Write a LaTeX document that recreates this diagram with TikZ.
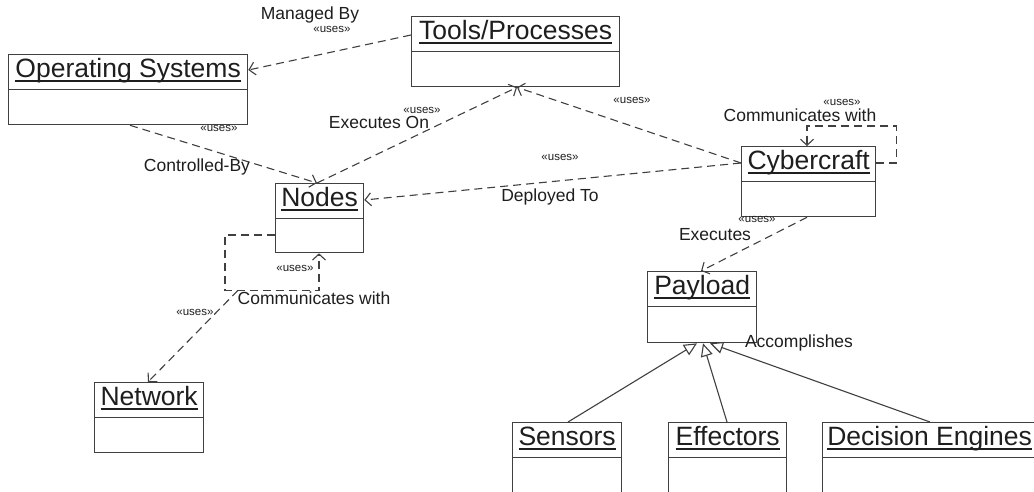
\documentclass[tikz,border=0pt]{standalone}
\usepackage{fontspec}
\setmainfont{Liberation Sans}
\usetikzlibrary{arrows.meta}
\definecolor{ln}{HTML}{404040}
\definecolor{tx}{HTML}{1E1E1E}
\newcommand\ulname[1]{\setbox0\hbox{#1}\rlap{\rule[-4.5pt]{\wd0}{1.8pt}}\box0}
\tikzset{
  box/.style={draw=ln, line width=1.3pt, rectangle, inner sep=0pt, fill=white},
  boxline/.style={draw=ln, line width=1.3pt},
  title/.style={text=tx, font=\fontsize{26.5}{30}\selectfont, inner sep=0pt},
  lab/.style={text=tx, font=\fontsize{17.5}{20}\selectfont, inner sep=0pt},
  st/.style={text=tx, font=\fontsize{11.5}{13}\selectfont, inner sep=0pt},
  dep/.style={draw=ln, line width=1.1pt, dash pattern=on 8pt off 5pt, -{Straight Barb[length=6pt,width=13pt]}},
  gen/.style={draw=ln, line width=1.1pt, -{Triangle[open, length=13pt, width=12pt, fill=white]}},
}
\newcommand\umlbox[6]{%
  \node[box, minimum width=#4pt, minimum height=#5pt, anchor=north west] (#1) at (#2,#3) {};
  \draw[boxline] ([yshift=-35.5pt]#1.north west) -- ([yshift=-35.5pt]#1.north east);
  \node[title, anchor=base] (#1-t) at ([yshift=-23pt]#1.north) {\ulname{#6}};
}
\begin{document}
\begin{tikzpicture}[x=1pt, y=-1pt]
\useasboundingbox (0,0) rectangle (1034,491);
\clip (0,0) rectangle (1034,491);
\fill[white] (0,0) rectangle (1034,491);

% connectors first (boxes drawn over them)
% Tools -> OS
\umlbox{os}{8}{54}{239}{70}{Operating Systems}
\umlbox{tools}{411}{16}{208}{70}{Tools/Processes}
\umlbox{cyber}{741}{146}{134}{70}{Cybercraft}
\umlbox{nodes}{275}{183}{88}{69}{Nodes}
\umlbox{network}{94}{382}{109}{70}{Network}
\umlbox{payload}{647}{271}{109}{71}{Payload}
\umlbox{sensors}{512}{422}{109}{74}{Sensors}
\umlbox{effectors}{668}{422}{118}{74}{Effectors}
\umlbox{decision}{822}{422}{214}{74}{Decision Engines}

\draw[dep] ([yshift=-19pt]tools.north west) -- ([yshift=-16pt]os.north east);
\draw[dep] ([xshift=122pt]os.south west) -- ([xshift=42pt]nodes.north west);
\draw[dep] ([xshift=42pt]nodes.north west) -- ([xshift=106pt]tools.south west);
\draw[dep] ([yshift=-17pt]cyber.north west) -- ([xshift=106pt]tools.south west);
\draw[dep] ([yshift=-17pt]cyber.north west) -- ([yshift=-17pt]nodes.north east);
\draw[dep] ([yshift=-17pt]cyber.north east) -- ++(20,0) |- ([xshift=66pt,yshift=20pt]cyber.north west) -- ([xshift=66pt]cyber.north west);
\draw[dep] ([xshift=66pt]cyber.south west) -- ([xshift=54pt]payload.north west);
\draw[dep] ([yshift=-52pt]nodes.north west) -- ++(-50,0) |- ([xshift=44pt,yshift=-37pt]nodes.south west) -- ([xshift=44pt]nodes.south west);
\draw[dep] ([xshift=-37pt,yshift=-37pt]nodes.south west) -- ([xshift=54pt]network.north west);

\draw[gen] ([xshift=56pt]sensors.north west) -- ([xshift=50pt]payload.south west);
\draw[gen] ([xshift=59pt]effectors.north west) -- ([xshift=56pt]payload.south west);
\draw[gen] ([xshift=108pt]decision.north west) -- ([xshift=63pt]payload.south west);

% labels
\node[lab] (l1) at (310,15) {Managed By};
\node[st] (s1) at (332,29) {«uses»};
\node[st] (s2) at (219,128) {«uses»};
\node[lab] (l2) at (197,167) {Controlled-By};
\node[lab] (l3) at (379,122) {Executes On};
\node[st] (s3) at (422,110) {«uses»};
\node[st] (s4) at (632,100) {«uses»};
\node[st] (s5) at (560,157) {«uses»};
\node[lab] (l4) at (550,197) {Deployed To};
\node[lab] (l5) at (800,115) {Communicates with};
\node[st] (s6) at (842,102) {«uses»};
\node[st] (s7) at (757,219) {«uses»};
\node[lab] (l6) at (715,235) {Executes};
\node[st] (s8) at (295,268) {«uses»};
\node[lab] (l7) at (314,298) {Communicates with};
\node[st] (s9) at (195,312) {«uses»};
\node[lab] (l8) at (799,343) {Accomplishes};
\end{tikzpicture}
\end{document}
